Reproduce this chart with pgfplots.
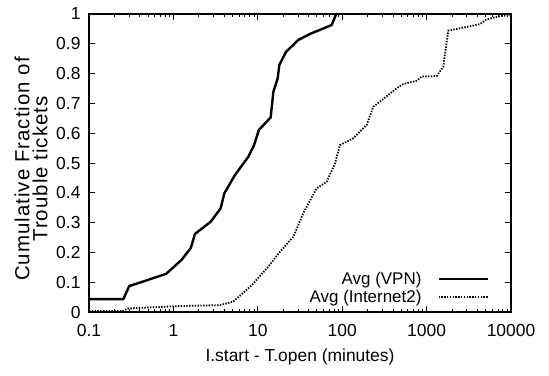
\documentclass[border=0pt]{standalone}
\usepackage{pgfplots}
\pgfplotsset{compat=1.18}
\usepackage{fontspec}
\setmainfont{Liberation Sans}
\newfontfamily\ylabfont[LetterSpace=5]{Liberation Sans}
\begin{document}
\begin{tikzpicture}[x=1bp,y=1bp]
\useasboundingbox (-89,-63) rectangle (460,312);
\begin{axis}[
  at={(0,0)}, anchor=south west,
  scale only axis, width=422bp, height=298bp,
  xmode=log, xmin=0.1, xmax=10000,
  ymin=0, ymax=1,
  ytick={0,0.1,...,1},
  xtick={0.1,1,10,100,1000,10000},
  xticklabels={0.1,1,10,100,1000,10000},
  yticklabels={0,0.1,0.2,0.3,0.4,0.5,0.6,0.7,0.8,0.9,1},
  /pgf/number format/assume math mode=true,
  tick align=inside,
  major tick length=6bp, minor tick length=3bp,
  every tick/.style={black, line width=0.8bp},
  axis line style={line width=1.3bp},
  tick label style={font=\fontsize{17.5}{20}\selectfont},
  xticklabel style={yshift=-9bp},
  yticklabel style={xshift=-5bp},
  xlabel={I.start - T.open (minutes)},
  xlabel style={font=\fontsize{17.5}{20}\selectfont, at={(axis description cs:0.5,0)}, anchor=base, yshift=-49bp},
  ylabel={Cumulative Fraction of\\Trouble tickets},
  ylabel style={font=\fontsize{20.5}{18}\ylabfont, align=center, at={(axis description cs:0,0.5)}, anchor=center, yshift=58bp, xshift=-6bp},
  legend style={draw=none, fill=none, at={(1,0)}, anchor=south east,
    xshift=-22bp, yshift=6bp, font=\fontsize{17}{20}\selectfont,
    row sep=0bp, column sep=14bp, inner sep=0pt},
  legend cell align=right,
  legend plot pos=right,
  legend image code/.code={\draw[#1] (0bp,0bp) -- (49bp,0bp);},
]
\addplot[black, line width=2.4bp, line join=round] coordinates {
(0.1,0.043) (0.255,0.043) (0.30,0.087) (0.82,0.128) (1.25,0.175)
(1.61,0.215) (1.80,0.262) (2.77,0.303) (3.63,0.348) (4.01,0.398)
(5.37,0.46) (7.73,0.521) (9.02,0.56) (10.3,0.611) (14.2,0.653)
(15.3,0.739) (17.2,0.784) (18.0,0.829) (21.6,0.873) (30.2,0.913)
(41.5,0.933) (75,0.963) (85,1.0)
};
\addlegendentry{Avg (VPN)}
\addplot[black, line width=1.8bp, dash pattern=on 1.4bp off 1.4bp] coordinates {
(0.1,0.003) (0.25,0.003) (0.29,0.012) (1.2,0.02) (3.56,0.023)
(5.13,0.035) (8.47,0.09) (13.3,0.152) (18.3,0.202) (26.4,0.253)
(35.3,0.337) (49.9,0.415) (65.5,0.437) (82.3,0.499) (94,0.56)
(135,0.583) (195,0.628) (234,0.689) (280,0.706) (442,0.751)
(530,0.765) (763,0.776) (873,0.79) (1318,0.792) (1578,0.823)
(1698,0.89) (1808,0.944) (2488,0.952) (4295,0.966) (5135,0.982)
(7413,0.993) (10000,0.997)
};
\addlegendentry{Avg (Internet2)}
\end{axis}
\end{tikzpicture}
\end{document}
